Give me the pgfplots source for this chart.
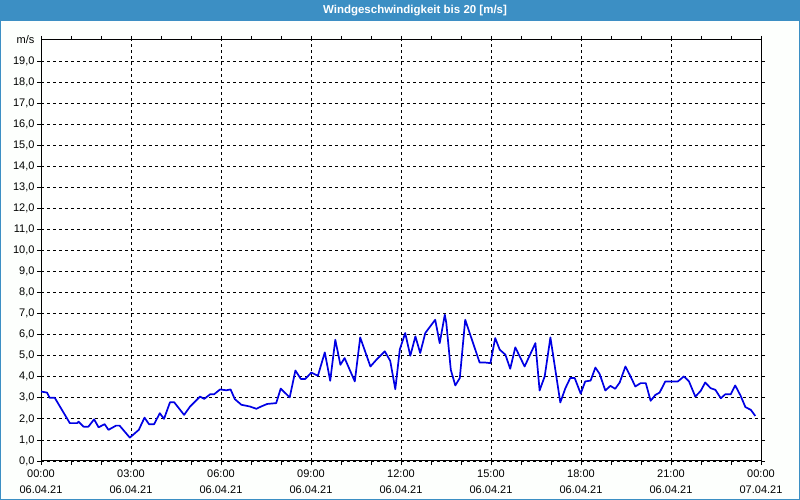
\documentclass[border=0pt]{standalone}
\usepackage{pgfplots}
\pgfplotsset{compat=1.18}
\usepackage{fontspec}
\setmainfont{Liberation Sans}
\definecolor{barblue}{RGB}{60,143,196}
\definecolor{lineblue}{RGB}{0,0,228}
\begin{document}
\begin{tikzpicture}[x=1pt,y=1pt]
\path[use as bounding box] (0,0) rectangle (800,500);
\fill[white!98!green!40!white] (0,0) rectangle (800,500);
\fill[barblue] (0,479) rectangle (800,500);
\draw[barblue,line width=2pt] (0,0) rectangle (800,500);
\node[text=white,font=\fontsize{11.5pt}{13pt}\selectfont\bfseries] at (415,489.5) {Windgeschwindigkeit bis 20 [m/s]};
\begin{axis}[
  at={(41pt,39pt)}, anchor=south west,
  scale only axis, width=720pt, height=421pt,
  xmin=0, xmax=24, ymin=0, ymax=20,
  axis background/.style={fill=white},
  axis line style={black, line width=1pt},
  xtick={0,3,...,24},
  minor xtick={1,2,4,5,7,8,10,11,13,14,16,17,19,20,22,23},
  ytick={0,...,19},
  extra y ticks={20},
  extra y tick labels={m/s},
  extra y tick style={grid=none, tick style={draw=none}},
  xticklabels={{00:00\\06.04.21},{03:00\\06.04.21},{06:00\\06.04.21},{09:00\\06.04.21},{12:00\\06.04.21},{15:00\\06.04.21},{18:00\\06.04.21},{21:00\\06.04.21},{00:00\\07.04.21}},
  xticklabel style={align=center, font=\fontsize{11pt}{16pt}\selectfont, yshift=-1pt},
  yticklabel style={font=\fontsize{11pt}{13pt}\selectfont, xshift=1pt},
  yticklabel={\pgfmathprintnumber[fixed,fixed zerofill,precision=1,use comma,assume math mode=true]{\tick}},
  tick align=outside,
  major tick length=4pt, minor tick length=4pt,
  tick style={black, line width=0.8pt},
  xmajorgrids, ymajorgrids,
  major grid style={black, line width=0.8pt, dash pattern=on 3pt off 3pt},
  clip=true,
]
\addplot[lineblue, line width=1.7pt, line join=round] coordinates {
(0,3.3)(0.2,3.25)(0.29,3.0)(0.46,3.0)(0.96,1.8)(1.21,1.8)(1.25,1.87)(1.42,1.63)(1.58,1.63)(1.77,1.98)(1.92,1.6)(2.12,1.75)(2.25,1.48)(2.5,1.68)(2.62,1.68)(2.96,1.11)(3.26,1.48)(3.45,2.06)(3.6,1.75)(3.77,1.75)(3.96,2.27)(4.1,2.0)(4.3,2.79)(4.44,2.79)(4.77,2.19)(4.97,2.59)(5.3,3.06)(5.44,2.95)(5.64,3.17)(5.77,3.17)(5.97,3.4)(6.07,3.38)(6.18,3.36)(6.32,3.4)(6.46,2.94)(6.68,2.67)(6.96,2.59)(7.18,2.48)(7.34,2.59)(7.54,2.71)(7.84,2.75)(7.99,3.44)(8.29,3.02)(8.48,4.3)(8.66,3.9)(8.81,3.9)(9.01,4.2)(9.23,4.05)(9.46,5.16)(9.64,3.81)(9.81,5.76)(9.98,4.57)(10.12,4.89)(10.46,3.78)(10.64,5.87)(10.98,4.49)(11.18,4.81)(11.46,5.21)(11.64,4.76)(11.81,3.41)(11.96,5.3)(12.14,6.08)(12.31,5.0)(12.48,5.92)(12.64,5.13)(12.81,6.08)(13.14,6.71)(13.29,5.6)(13.46,6.95)(13.51,6.56)(13.66,4.33)(13.81,3.59)(13.96,3.94)(14.14,6.71)(14.62,4.68)(14.79,4.68)(14.98,4.65)(15.14,5.84)(15.29,5.29)(15.48,5.05)(15.64,4.38)(15.81,5.4)(16.12,4.49)(16.48,5.6)(16.62,3.35)(16.79,4.02)(16.98,5.87)(17.31,2.78)(17.48,3.46)(17.64,3.94)(17.79,3.94)(17.99,3.2)(18.14,3.78)(18.32,3.82)(18.48,4.44)(18.62,4.14)(18.81,3.35)(18.98,3.57)(19.14,3.43)(19.29,3.73)(19.48,4.49)(19.64,4.05)(19.81,3.54)(19.99,3.7)(20.16,3.7)(20.32,2.86)(20.48,3.14)(20.62,3.25)(20.81,3.78)(21.23,3.78)(21.43,4.02)(21.6,3.78)(21.81,3.06)(21.99,3.33)(22.14,3.73)(22.32,3.46)(22.48,3.38)(22.66,2.98)(22.81,3.17)(22.99,3.17)(23.14,3.59)(23.32,3.1)(23.48,2.56)(23.66,2.43)(23.81,2.14)
};
\end{axis}
\end{tikzpicture}
\end{document}
